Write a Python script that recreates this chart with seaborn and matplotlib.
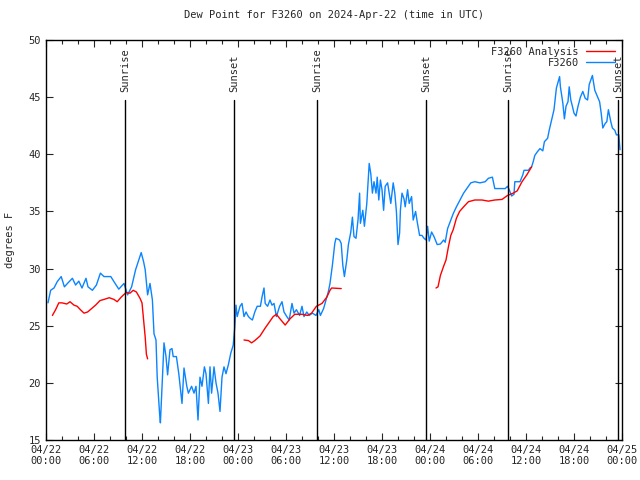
import matplotlib
matplotlib.use("Agg")
import matplotlib.pyplot as plt
import matplotlib.dates as mdates
from matplotlib.lines import Line2D
import numpy as np
import pandas as pd
import seaborn as sns

start = pd.Timestamp("2024-04-22 00:00")

# F3260 observations (hours after 04/22 00:00 UTC, deg F)
obs_hours = [0.25, 0.58, 1.0, 1.4, 1.9, 2.3, 2.75, 3.3, 3.7, 4.1, 4.5, 5.0, 5.25, 5.8, 6.3, 6.8,
             7.25, 8.1, 8.5, 9.1, 9.75, 10.2, 10.7, 11.2, 11.9, 12.2, 12.4, 12.7, 13.0, 13.3, 13.5,
             13.75, 13.9, 14.2, 14.3, 14.5, 14.75, 15.0, 15.2, 15.5, 15.75, 15.9, 16.3, 16.6, 17.0,
             17.25, 17.6, 17.8, 18.2, 18.5, 18.75, 19.0, 19.25, 19.5, 19.8, 20.0, 20.3, 20.5, 20.7,
             21.0, 21.25, 21.5, 21.75, 22.0, 22.25, 22.5, 22.8, 23.1, 23.4, 23.6, 23.75, 23.9, 24.25,
             24.5, 24.75, 25.0, 25.3, 25.6, 25.8, 26.1, 26.4, 26.8, 27.0, 27.25, 27.4, 27.7, 28.0,
             28.25, 28.5, 28.8, 29.2, 29.5, 29.75, 30.1, 30.4, 30.75, 31.0, 31.3, 31.7, 32.0, 32.25,
             32.6, 32.9, 33.3, 33.75, 34.1, 34.3, 34.7, 35.0, 35.3, 35.5, 35.8, 36.1, 36.25, 36.7,
             36.9, 37.1, 37.3, 37.6, 37.8, 38.1, 38.3, 38.5, 38.75, 39.0, 39.2, 39.3, 39.6, 39.8,
             40.1, 40.4, 40.6, 40.8, 41.0, 41.25, 41.4, 41.6, 41.8, 42.0, 42.2, 42.4, 42.7, 42.9,
             43.1, 43.25, 43.4, 43.6, 43.8, 44.0, 44.2, 44.3, 44.5, 44.75, 44.9, 45.2, 45.4, 45.7,
             45.9, 46.2, 46.4, 46.7, 47.0, 47.25, 47.5, 47.7, 47.9, 48.2, 48.5, 48.9, 49.3, 49.7,
             49.9, 50.2, 50.6, 50.9, 51.3, 51.75, 52.2, 52.6, 53.1, 53.6, 54.25, 54.9, 55.3, 55.8,
             56.1, 56.75, 57.4, 57.7, 57.9, 58.2, 58.5, 58.6, 59.25, 59.6, 59.75, 60.3, 60.5, 60.7,
             60.9, 61.1, 61.4, 61.75, 62.1, 62.3, 62.7, 62.9, 63.2, 63.5, 63.8, 64.2, 64.3, 64.6,
             64.8, 65.0, 65.25, 65.4, 65.6, 65.8, 66.0, 66.25, 66.5, 66.8, 67.1, 67.4, 67.7, 67.9,
             68.3, 68.6, 68.9, 69.2, 69.4, 69.6, 69.9, 70.1, 70.3, 70.6, 70.8, 71.1, 71.3, 71.6, 71.75]
obs_vals = [27.0, 28.1, 28.3, 28.85, 29.3, 28.4, 28.75, 29.15, 28.56, 28.9, 28.3, 29.15, 28.4, 28.1,
            28.56, 29.6, 29.3, 29.3, 28.85, 28.2, 28.7, 27.7, 28.4, 29.9, 31.4, 30.6, 29.9, 27.7,
            28.7, 27.25, 24.3, 23.75, 20.5, 17.3, 16.5, 19.7, 23.5, 22.3, 20.7, 22.9, 23.0, 22.3,
            22.3, 20.8, 18.2, 21.3, 19.7, 19.1, 19.7, 19.1, 19.7, 16.75, 20.5, 19.7, 21.4, 20.8,
            18.2, 21.4, 19.1, 21.4, 20.0, 19.1, 17.5, 20.5, 21.4, 20.8, 21.6, 22.6, 23.3, 24.9,
            26.8, 25.8, 26.7, 26.95, 25.8, 26.2, 25.8, 25.6, 25.5, 26.2, 26.7, 26.7, 27.5, 28.3,
            26.95, 26.7, 27.25, 26.8, 26.95, 25.8, 26.7, 27.1, 26.2, 25.8, 25.5, 26.95, 26.1, 26.4,
            25.9, 26.7, 25.8, 26.2, 25.9, 26.1, 25.9, 26.4, 25.9, 26.5, 27.25, 28.0, 28.7, 30.3,
            32.2, 32.65, 32.5, 32.2, 30.3, 29.3, 30.75, 32.1, 33.2, 34.5, 32.8, 32.65, 34.25, 36.6,
            33.96, 35.1, 33.7, 35.7, 39.2, 38.3, 36.6, 37.6, 36.6, 38.0, 36.0, 37.75, 36.9, 35.1,
            37.2, 37.5, 36.6, 35.7, 36.6, 37.5, 36.6, 35.0, 32.1, 33.1, 35.1, 36.6, 36.1, 35.4,
            36.9, 35.7, 36.3, 34.25, 35.0, 34.1, 32.9, 32.9, 32.65, 32.5, 33.7, 32.4, 33.2, 32.8,
            32.1, 32.15, 32.5, 32.3, 33.5, 34.25, 34.8, 35.4, 36.0, 36.6, 37.0, 37.5, 37.6, 37.5,
            37.6, 37.9, 38.0, 37.0, 37.0, 37.0, 37.2, 36.9, 36.35, 36.5, 37.6, 37.6, 38.2, 38.6,
            38.6, 38.8, 38.9, 39.35, 39.9, 40.2, 40.5, 40.3, 41.1, 41.4, 42.1, 43.0, 43.9, 45.8,
            46.8, 45.9, 44.5, 43.1, 44.2, 44.6, 45.9, 44.75, 44.2, 43.6, 43.35, 44.2, 45.0, 45.5,
            44.9, 44.75, 46.1, 46.9, 45.6, 45.1, 44.6, 43.6, 42.3, 42.7, 42.85, 43.9, 42.85, 42.3,
            42.1, 41.7, 41.7, 40.4]

# F3260 analysis, three separate runs
ana_hours_1 = [0.8, 1.2, 1.6, 2.0, 2.6, 3.0, 3.5, 3.9, 4.3, 4.75, 5.2, 5.7, 6.2, 6.75, 7.25, 7.9,
               8.5, 8.9, 9.4, 10.0, 10.5, 10.9, 11.3, 11.75, 12.0, 12.2, 12.4, 12.55, 12.7]
ana_vals_1 = [25.9, 26.4, 27.0, 27.0, 26.9, 27.1, 26.8, 26.7, 26.4, 26.1, 26.2, 26.5, 26.8, 27.2,
              27.3, 27.45, 27.3, 27.1, 27.5, 27.9, 27.85, 28.1, 27.95, 27.4, 27.0, 25.5, 24.0,
              22.5, 22.1]
ana_hours_2 = [24.75, 25.3, 25.7, 26.1, 26.75, 27.4, 28.0, 28.4, 28.8, 29.25, 29.9, 30.5, 31.1,
               32.0, 32.7, 33.2, 33.8, 34.5, 35.1, 35.5, 35.7, 36.9]
ana_vals_2 = [23.75, 23.7, 23.5, 23.7, 24.1, 24.8, 25.4, 25.8, 26.0, 25.6, 25.06, 25.6, 26.0,
              26.0, 25.9, 26.1, 26.7, 26.95, 27.5, 28.1, 28.3, 28.25]
ana_hours_3 = [48.75, 49.0, 49.3, 49.7, 50.0, 50.3, 50.6, 50.9, 51.3, 51.7, 52.2, 52.8, 53.6,
               54.5, 55.3, 56.1, 57.0, 57.7, 58.4, 58.9, 59.5, 60.1, 60.7]
ana_vals_3 = [28.3, 28.4, 29.4, 30.2, 30.75, 31.9, 32.9, 33.4, 34.4, 35.0, 35.4, 35.85, 36.0,
              36.0, 35.9, 36.0, 36.05, 36.4, 36.6, 36.8, 37.6, 38.2, 38.9]

event_hours = [9.875, 23.5, 33.9, 47.5, 57.75, 71.5]
event_labels = ["Sunrise", "Sunset", "Sunrise", "Sunset", "Sunrise", "Sunset"]

frames = [pd.DataFrame({"hours": obs_hours, "dewpt": obs_vals, "series": "F3260", "run": 0})]
for i, (h, v) in enumerate([(ana_hours_1, ana_vals_1), (ana_hours_2, ana_vals_2),
                            (ana_hours_3, ana_vals_3)]):
    frames.append(pd.DataFrame({"hours": h, "dewpt": v, "series": "F3260 Analysis", "run": i + 1}))
df = pd.concat(frames, ignore_index=True)
df["time"] = start + pd.to_timedelta(df["hours"], unit="h")

sns.set_style("ticks")
plt.rcParams["font.family"] = ["DejaVu Sans Mono"]
plt.rcParams["font.size"] = 7

red = "#ff0000"
blue = "#0a84ff"

fig = plt.figure(figsize=(6.4, 4.8), dpi=100)
ax = fig.add_axes([46 / 640, 40 / 480, 576 / 640, 400 / 480])

sns.lineplot(data=df, x="time", y="dewpt", hue="series", units="run", estimator=None,
             sort=False, palette={"F3260": blue, "F3260 Analysis": red}, linewidth=1,
             legend=False, ax=ax)

for h, lab in zip(event_hours, event_labels):
    t = start + pd.Timedelta(hours=h)
    ax.axvline(t, ymin=0, ymax=0.85, color="black", linewidth=1)
    ax.text(t, 0.87, lab, transform=ax.get_xaxis_transform(), rotation=90,
            ha="center", va="bottom", fontsize=7.5)

ax.set_xlim(start, start + pd.Timedelta(hours=72))
ax.set_ylim(15, 50)
ax.set_yticks(np.arange(15, 51, 5))
ax.xaxis.set_major_locator(mdates.HourLocator(byhour=[0, 6, 12, 18]))
ax.xaxis.set_minor_locator(mdates.HourLocator(interval=2))
ax.xaxis.set_major_formatter(mdates.DateFormatter("%m/%d\n%H:%M"))
ax.tick_params(which="both", direction="in", top=True, right=True, labelsize=7.5)
ax.tick_params(which="major", length=5, width=0.8)
ax.tick_params(which="minor", length=3, width=0.8)
for s in ax.spines.values():
    s.set_linewidth(1)
    s.set_color("black")

ax.set_xlabel("")
ax.set_ylabel("degrees F", fontsize=7.5, labelpad=10)
ax.set_title("Dew Point for F3260 on 2024-Apr-22 (time in UTC)", fontsize=7.5, pad=16)

handles = [Line2D([], [], color=red, linewidth=1), Line2D([], [], color=blue, linewidth=1)]
ax.legend(handles, ["F3260 Analysis", "F3260"], loc="upper right", frameon=False,
          markerfirst=False, fontsize=7.5, handlelength=2.8, borderaxespad=0.25,
          labelspacing=0.1, handletextpad=0.7)

fig.savefig("out.png", dpi=100)
